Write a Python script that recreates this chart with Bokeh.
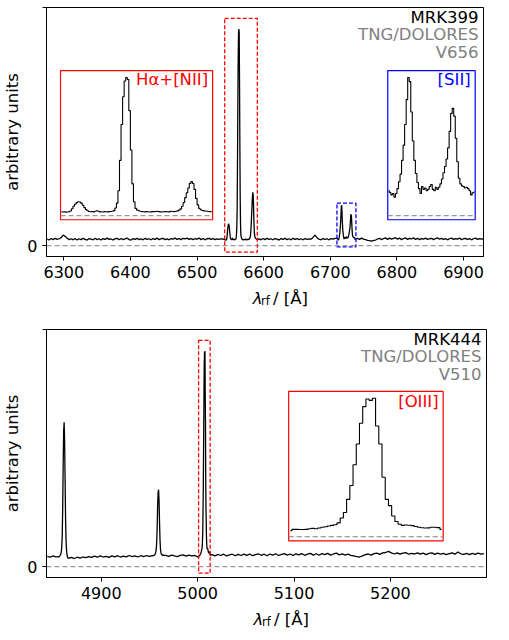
import numpy as np
from bokeh.plotting import figure
from bokeh.models import Range1d, Span, Label, FixedTicker
from bokeh.layouts import column
from bokeh.embed import file_html
from bokeh.resources import INLINE

FONT = "DejaVu Sans"
GRAY = "#808080"

# ======================= DATA =======================
ylim_main = (-0.05, 1.10)
yticks_main = [0, 1.10]
inset_ylim = (-0.03, 1.05)
ylabel_text = "arbitrary units"
xlabel_parts = ["λ", "rf", "/ [Å]"]

# ---------- top panel: MRK399 ----------
top_names = ["MRK399", "TNG/DOLORES", "V656"]
top_xlim = (6274.0, 6930.0)
top_xticks = [6300, 6400, 6500, 6600, 6700, 6800, 6900]

top_contA_start, top_contA_step = 6275.0, 3.0
top_contA = [0.031, 0.026, 0.033, 0.028, 0.034, 0.029, 0.032, 0.037, 0.049, 0.043,
             0.034, 0.028, 0.032, 0.027, 0.033, 0.026, 0.032, 0.028, 0.034, 0.029,
             0.026, 0.033, 0.030, 0.027, 0.034, 0.028, 0.032, 0.026, 0.033, 0.029,
             0.035, 0.029, 0.031, 0.026, 0.032, 0.034, 0.027, 0.033, 0.028, 0.031,
             0.035, 0.028, 0.026, 0.033, 0.029, 0.034, 0.028, 0.031, 0.027, 0.034,
             0.029, 0.032, 0.027, 0.033, 0.029, 0.035, 0.028, 0.032, 0.034, 0.028,
             0.031, 0.027, 0.033, 0.030, 0.035, 0.029, 0.033, 0.028, 0.034, 0.031,
             0.035, 0.029, 0.033, 0.028, 0.032, 0.030, 0.035, 0.028, 0.033, 0.027,
             0.032, 0.034, 0.029, 0.033, 0.028, 0.031, 0.029, 0.032, 0.030]

# H-alpha + [NII] region (units of H-alpha peak)
top_ha_start, top_ha_step = 6541.75, 0.5
top_ha = [0.028, 0.026, 0.027, 0.025, 0.026, 0.028, 0.033, 0.050, 0.068, 0.082,
          0.094, 0.100, 0.099, 0.090, 0.075, 0.058, 0.044, 0.035, 0.030, 0.028,
          0.029, 0.027, 0.031, 0.035, 0.031, 0.027, 0.028, 0.026, 0.029, 0.028,
          0.027, 0.029, 0.030, 0.031, 0.036, 0.055, 0.090, 0.180, 0.400, 0.660,
          0.860, 0.975, 1.000, 0.985, 0.760, 0.475, 0.230, 0.100, 0.052, 0.040,
          0.035, 0.031, 0.029, 0.028, 0.027, 0.029, 0.028, 0.026, 0.027, 0.029,
          0.028, 0.030, 0.031, 0.029, 0.027, 0.026, 0.028, 0.029, 0.028, 0.027,
          0.029, 0.031, 0.030, 0.029, 0.031, 0.034, 0.040, 0.049, 0.068, 0.095,
          0.130, 0.165, 0.200, 0.232, 0.246, 0.232, 0.190, 0.125, 0.078, 0.052,
          0.042, 0.037, 0.034, 0.033, 0.031, 0.030, 0.029, 0.028]

top_contB_start, top_contB_step = 6593.0, 3.0
top_contB = [0.031, 0.027, 0.033, 0.028, 0.034, 0.029, 0.032, 0.027, 0.033, 0.030,
             0.026, 0.033, 0.029, 0.034, 0.028, 0.032, 0.027, 0.034, 0.029, 0.033,
             0.028, 0.032, 0.027, 0.033, 0.029, 0.031, 0.030, 0.038, 0.049, 0.037,
             0.030, 0.027, 0.033, 0.029, 0.032, 0.027, 0.033, 0.030, 0.034]

# [SII] region (normalised to the [SII] 6717 peak) and that peak in main units
top_sii_start, top_sii_step = 6710.25, 0.5
top_sii_norm = [0.180, 0.168, 0.150, 0.160, 0.133, 0.160, 0.195, 0.245, 0.300, 0.400,
                0.510, 0.660, 0.840, 1.000, 0.970, 0.750, 0.540, 0.400, 0.305, 0.240,
                0.195, 0.160, 0.210, 0.190, 0.200, 0.180, 0.190, 0.210, 0.225, 0.190,
                0.180, 0.205, 0.190, 0.205, 0.230, 0.265, 0.310, 0.355, 0.410, 0.490,
                0.610, 0.740, 0.776, 0.720, 0.560, 0.390, 0.270, 0.230, 0.215, 0.210,
                0.200, 0.205, 0.195, 0.180, 0.150, 0.165, 0.170]
top_sii_peak = 0.187

top_contC_start, top_contC_step = 6741.0, 3.0
top_contC = [0.034, 0.029, 0.035, 0.030, 0.028, 0.025, 0.023, 0.021, 0.024, 0.026,
             0.031, 0.034, 0.028, 0.033, 0.036, 0.029, 0.035, 0.030, 0.034, 0.037,
             0.030, 0.035, 0.028, 0.033, 0.036, 0.029, 0.034, 0.031, 0.036, 0.029,
             0.034, 0.028, 0.033, 0.030, 0.035, 0.029, 0.032, 0.034, 0.028, 0.033,
             0.036, 0.030, 0.034, 0.029, 0.033, 0.027, 0.032, 0.035, 0.029, 0.033,
             0.030, 0.035, 0.028, 0.032, 0.034, 0.029, 0.033, 0.027, 0.032, 0.035,
             0.029, 0.033, 0.030, 0.032]

ha_xlim = (6541.5, 6590.5)
sii_xlim = (6710.0, 6738.5)
ha_box = (0.0321, 0.3801, 0.1476, 0.7467)
sii_box = (0.7809, 0.9810, 0.1476, 0.7467)

# ---------- bottom panel: MRK444 ----------
bot_names = ["MRK444", "TNG/DOLORES", "V510"]
bot_xlim = (4843.2, 5299.7)
bot_xticks = [4900, 5000, 5100, 5200]

bot_contD_start, bot_contD_step = 4844.0, 3.0
bot_contD = [0.048, 0.044, 0.050, 0.046]

bot_hb_start, bot_hb_step = 4855.0, 0.5
bot_hb = [0.046, 0.047, 0.045, 0.048, 0.050, 0.053, 0.058, 0.068, 0.090, 0.140,
          0.270, 0.470, 0.630, 0.670, 0.580, 0.400, 0.220, 0.120, 0.075, 0.055,
          0.045, 0.040, 0.039, 0.041, 0.040]

bot_contE_start, bot_contE_step = 4869.0, 3.0
bot_contE = [0.043, 0.038, 0.044, 0.040, 0.045, 0.042, 0.047, 0.043, 0.049, 0.044,
             0.050, 0.045, 0.048, 0.043, 0.050, 0.046, 0.051, 0.045, 0.049, 0.046,
             0.052, 0.047, 0.050, 0.045, 0.051, 0.047, 0.052, 0.048]

bot_o4959_start, bot_o4959_step = 4953.0, 0.5
bot_o4959 = [0.052, 0.050, 0.053, 0.051, 0.054, 0.056, 0.060, 0.066, 0.080, 0.110,
             0.180, 0.280, 0.345, 0.357, 0.300, 0.200, 0.120, 0.080, 0.064, 0.058,
             0.055, 0.053, 0.054, 0.052, 0.053]

bot_contF_start, bot_contF_step = 4967.0, 3.0
bot_contF = [0.053, 0.048, 0.054, 0.050, 0.047, 0.053, 0.055, 0.049, 0.054, 0.050, 0.052]

# [OIII] 5007 region (units of its peak)
bot_o5007_start, bot_o5007_step = 5001.125, 0.25
bot_o5007 = [0.043, 0.053, 0.053, 0.052, 0.052, 0.053, 0.058, 0.060, 0.058, 0.063,
             0.068, 0.072, 0.077, 0.082, 0.086, 0.100, 0.135, 0.175, 0.270, 0.370,
             0.520, 0.670, 0.820, 0.940, 0.995, 0.985, 1.000, 0.800, 0.670, 0.430,
             0.270, 0.225, 0.150, 0.110, 0.090, 0.082, 0.085, 0.083, 0.080, 0.074,
             0.068, 0.065, 0.063, 0.064, 0.068, 0.068, 0.066, 0.053]

bot_contG_start, bot_contG_step = 5015.0, 3.0
bot_contG = [0.056, 0.050, 0.057, 0.052, 0.058, 0.050, 0.055, 0.058, 0.051, 0.057,
             0.052, 0.058, 0.053, 0.059, 0.051, 0.056, 0.060, 0.053, 0.058, 0.051,
             0.059, 0.054, 0.060, 0.052, 0.057, 0.061, 0.054, 0.059, 0.052, 0.060,
             0.055, 0.061, 0.053, 0.058, 0.062, 0.054, 0.060, 0.053, 0.061, 0.056,
             0.062, 0.054, 0.059, 0.063, 0.055, 0.060, 0.054, 0.058, 0.053, 0.050,
             0.047, 0.045, 0.050, 0.056, 0.059, 0.054, 0.061, 0.063, 0.057, 0.064,
             0.066, 0.071, 0.064, 0.059, 0.064, 0.058, 0.063, 0.065, 0.058, 0.062,
             0.059, 0.064, 0.058, 0.063, 0.056, 0.062, 0.064, 0.057, 0.063, 0.058,
             0.062, 0.056, 0.061, 0.064, 0.058, 0.068, 0.060, 0.057, 0.062, 0.056,
             0.062, 0.057, 0.063, 0.058, 0.061]

oiii_xlim = (5001.0, 5013.0)
oiii_box = (0.5504, 0.9015, 0.1477, 0.7504)


# ======================= HELPERS =======================
def seg(start, step, vals):
    v = np.asarray(vals, dtype=float)
    return start + step * np.arange(len(v)), v


def ax_label(p, x, y, text, size="16.5px", color="black", align="left",
             baseline="middle", rng="ax", style="normal"):
    kw = {}
    if rng is not None:
        kw = dict(x_range_name=rng, y_range_name=rng)
    p.add_layout(Label(x=x, y=y, text=text, text_font=FONT, text_font_size=size,
                       text_color=color, text_align=align, text_baseline=baseline,
                       text_font_style=style, **kw))


def make_panel(wl, fl, xlim, xticks, fw, fh, mb_top, mb_bottom, names, insets):
    p = figure(frame_width=fw, frame_height=fh, x_range=Range1d(*xlim),
               y_range=Range1d(*ylim_main), output_backend="svg",
               toolbar_location=None, min_border_left=44, min_border_right=10,
               min_border_top=mb_top, min_border_bottom=mb_bottom)
    p.grid.visible = False
    p.outline_line_color = "black"
    p.outline_line_width = 1
    p.outline_line_alpha = 1
    p.background_fill_color = "white"
    p.border_fill_color = "white"
    for a in (p.xaxis[0], p.yaxis[0]):
        a.axis_line_color = "black"
        a.major_tick_line_color = "black"
        a.major_tick_in = 0
        a.major_tick_out = 4
        a.minor_tick_line_color = None
        a.major_label_text_font = FONT
        a.major_label_text_font_size = "16px"
        a.major_label_text_color = "black"
        a.major_label_standoff = 5
    p.xaxis.ticker = FixedTicker(ticks=xticks)
    p.yaxis.ticker = FixedTicker(ticks=yticks_main)
    p.yaxis.major_label_overrides = {yticks_main[1]: ""}
    p.yaxis.axis_label = ylabel_text
    p.yaxis.axis_label_text_font = FONT
    p.yaxis.axis_label_text_font_size = "16.5px"
    p.yaxis.axis_label_text_font_style = "normal"
    p.yaxis.axis_label_text_color = "black"
    p.yaxis.axis_label_standoff = 2

    xr = {"ax": Range1d(0, 1)}
    yr = {"ax": Range1d(0, 1)}
    for ins in insets:
        ix, box = ins["xlim"], ins["box"]
        sx = (ix[1] - ix[0]) / (box[1] - box[0])
        xs = ix[0] - box[0] * sx
        sy = (inset_ylim[1] - inset_ylim[0]) / (box[3] - box[2])
        ys = inset_ylim[0] - box[2] * sy
        xr[ins["name"]] = Range1d(xs, xs + sx)
        yr[ins["name"]] = Range1d(ys, ys + sy)
    p.extra_x_ranges = xr
    p.extra_y_ranges = yr

    p.add_layout(Span(location=0, dimension="width", line_color=GRAY, line_alpha=0.8,
                      line_dash="5 3", line_width=1.3))
    p.line(wl, fl, line_color="black", line_width=1.3)

    for ins in insets:
        ix, n, col = ins["xlim"], ins["name"], ins["color"]
        peak = ins["peak"]
        p.quad(left=[ix[0]], right=[ix[1]], bottom=[inset_ylim[0] * peak],
               top=[inset_ylim[1] * peak], fill_color=None, line_color=col,
               line_dash="4 2", line_width=1.3)
        p.quad(left=[ix[0]], right=[ix[1]], bottom=[inset_ylim[0]], top=[inset_ylim[1]],
               fill_color="white", line_color=col, line_width=1.2,
               x_range_name=n, y_range_name=n)
        p.line(list(ix), [0, 0], line_color=GRAY, line_alpha=0.8, line_dash="5 3",
               line_width=1.2, x_range_name=n, y_range_name=n)
        rf = ins["flux"] / ins["flux"].max()
        p.step(ins["wl"], rf, mode="center", line_color="black", line_width=1.1,
               x_range_name=n, y_range_name=n)
        box = ins["box"]
        ax_label(p, box[1] - 4.5 / fw, box[3] - ins["dy"] / fh, ins["label"],
                 color=col, align="right")

    cols = ["black", GRAY, GRAY]
    for t, c, d in zip(names, cols, [9.6, 26.9, 44.8]):
        ax_label(p, 1 - 5.0 / fw, 1 - d / fh, t, color=c, align="right")
    return p


def xlabel_strip(width, height, x0, base_from_top):
    """A bare strip (no axes) holding the x-axis title lambda_rf / [A]."""
    s = figure(width=width, height=height, x_range=Range1d(0, width),
               y_range=Range1d(0, height), output_backend="svg",
               toolbar_location=None, min_border=0)
    s.axis.visible = False
    s.grid.visible = False
    s.outline_line_color = None
    s.background_fill_color = "white"
    s.border_fill_color = "white"
    yb = height - base_from_top
    ax_label(s, x0, yb, xlabel_parts[0], baseline="alphabetic", rng=None, style="italic")
    ax_label(s, x0 + 9.5, yb - 2.5, xlabel_parts[1], size="11.5px",
             baseline="alphabetic", rng=None)
    ax_label(s, x0 + 23.0, yb, xlabel_parts[2], baseline="alphabetic", rng=None)
    return s


# ======================= BUILD =======================
segs_top = [seg(top_contA_start, top_contA_step, top_contA),
            seg(top_ha_start, top_ha_step, top_ha),
            seg(top_contB_start, top_contB_step, top_contB),
            seg(top_sii_start, top_sii_step, np.asarray(top_sii_norm) * top_sii_peak),
            seg(top_contC_start, top_contC_step, top_contC)]
wl_top = np.concatenate([s[0] for s in segs_top])
fl_top = np.concatenate([s[1] for s in segs_top])

segs_bot = [seg(bot_contD_start, bot_contD_step, bot_contD),
            seg(bot_hb_start, bot_hb_step, bot_hb),
            seg(bot_contE_start, bot_contE_step, bot_contE),
            seg(bot_o4959_start, bot_o4959_step, bot_o4959),
            seg(bot_contF_start, bot_contF_step, bot_contF),
            seg(bot_o5007_start, bot_o5007_step, bot_o5007),
            seg(bot_contG_start, bot_contG_step, bot_contG)]
wl_bot = np.concatenate([s[0] for s in segs_bot])
fl_bot = np.concatenate([s[1] for s in segs_bot])


def region(wl, fl, xl):
    m = (wl >= xl[0]) & (wl <= xl[1])
    return wl[m], fl[m]


ha_wl, ha_fl = region(wl_top, fl_top, ha_xlim)
sii_wl, sii_fl = region(wl_top, fl_top, sii_xlim)
oiii_wl, oiii_fl = region(wl_bot, fl_bot, oiii_xlim)

top_insets = [
    dict(name="ha", xlim=ha_xlim, box=ha_box, color="red", label="Hα+[NII]",
         wl=ha_wl, flux=ha_fl, peak=ha_fl.max(), dy=9.0),
    dict(name="sii", xlim=sii_xlim, box=sii_box, color="blue", label="[SII]",
         wl=sii_wl, flux=sii_fl, peak=sii_fl.max(), dy=9.0),
]
bot_insets = [
    dict(name="oiii", xlim=oiii_xlim, box=oiii_box, color="red", label="[OIII]",
         wl=oiii_wl, flux=oiii_fl, peak=oiii_fl.max(), dy=10.4),
]

p1 = make_panel(wl_top, fl_top, top_xlim, top_xticks, 437, 249, 7, 30, top_names, top_insets)
s1 = xlabel_strip(491, 33, 232.7, 12.0)
p2 = make_panel(wl_bot, fl_bot, bot_xlim, bot_xticks, 440, 248, 10, 30, bot_names, bot_insets)
s2 = xlabel_strip(494, 30, 233.5, 12.0)

layout = column(p1, s1, p2, s2)
open("out.html", "w").write(file_html(layout, INLINE))
